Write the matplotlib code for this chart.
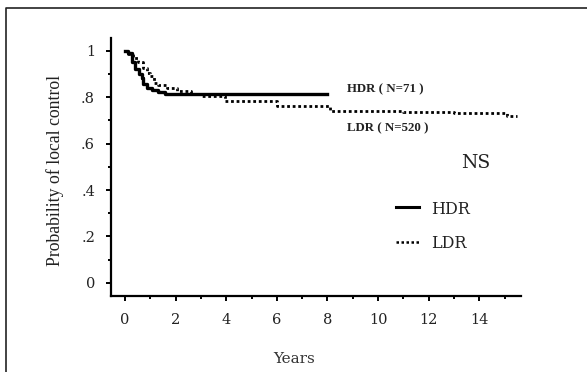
import numpy as np
import matplotlib.pyplot as plt
from matplotlib.lines import Line2D

# Kaplan-Meier style curves (years, probability)
hdr_t = [0, 0.1, 0.27, 0.4, 0.55, 0.67, 0.72, 0.85, 1.06, 1.3, 1.58, 8.0]
hdr_s = [1.0, 0.99, 0.95, 0.92, 0.9, 0.88, 0.855, 0.84, 0.83, 0.82, 0.811, 0.811]

ldr_t = [0, 0.1, 0.3, 0.5, 0.7, 0.85, 1.0, 1.15, 1.3, 1.65, 2.05, 2.6, 3.0,
         3.95, 6.0, 8.1, 11.0, 13.0, 15.1, 15.5]
ldr_s = [1.0, 0.985, 0.97, 0.95, 0.925, 0.905, 0.89, 0.86, 0.85, 0.84, 0.825,
         0.815, 0.805, 0.785, 0.762, 0.742, 0.735, 0.73, 0.718, 0.718]

xticks = [0, 2, 4, 6, 8, 10, 12, 14]
yticks = [0, 0.2, 0.4, 0.6, 0.8, 1.0]
ylabels = ['0', '.2', '.4', '.6', '.8', '1']

serif = 'DejaVu Serif'
times = 'Liberation Serif'

fig = plt.figure(figsize=(5.87, 3.72), dpi=100)
ax = fig.add_axes([111/587, 1-296/372, (521-111)/587, (296-38)/372])

ax.step(hdr_t, hdr_s, where='post', color='black', lw=2.4)
ax.step(ldr_t, ldr_s, where='post', color='black', lw=2.0, ls=(0, (1, 1)))

ax.set_xlim(-0.553, 15.65)
ax.set_ylim(-0.056, 1.054)
ax.set_xticks(xticks)
ax.set_xticks([1, 3, 5, 7, 9, 11, 13, 15], minor=True)
ax.set_yticks(yticks)
ax.set_yticklabels(ylabels)
ax.set_yticks([0.1, 0.3, 0.5, 0.7, 0.9], minor=True)

for s in ['top', 'right']:
    ax.spines[s].set_visible(False)
for s in ['left', 'bottom']:
    ax.spines[s].set_linewidth(1.6)

ax.tick_params(which='major', direction='out', length=3.5, width=1.4, pad=8, labelsize=10.5)
ax.tick_params(which='minor', direction='out', length=2.5, width=1.4)
ax.tick_params(axis='x', pad=9)
for lab in ax.get_xticklabels() + ax.get_yticklabels():
    lab.set_fontfamily(serif)
    lab.set_color('#222222')

fig.text(55/587, 1-170/372, 'Probability of local control', rotation=90,
         ha='center', va='center', family=times, fontsize=12.8, color='#222222')
fig.text(294/587, 1-359/372, 'Years', ha='center', va='center',
         family=serif, fontsize=11, color='#333333')

ax.text(8.77, 0.834, 'HDR ( N=71 )', ha='left', va='center', family=times,
        fontweight='bold', fontsize=9.3, color='#222222')
ax.text(8.77, 0.667, 'LDR ( N=520 )', ha='left', va='center', family=times,
        fontweight='bold', fontsize=9.3, color='#222222')
ax.text(13.28, 0.516, 'NS', ha='left', va='center', family=serif,
        fontsize=13.5, color='#222222')

# hand-made legend
ax.plot([10.71, 11.62], [0.327, 0.327], color='black', lw=2.2)
ax.plot([10.71, 11.62], [0.176, 0.176], color='black', lw=1.8, ls=(0, (1, 1)))
ax.text(12.09, 0.314, 'HDR', ha='left', va='center', family=serif, fontsize=11.5, color='#222222')
ax.text(12.09, 0.172, 'LDR', ha='left', va='center', family=serif, fontsize=11.5, color='#222222')

# picture frame (left and top edges only)
fx = 6/587
fy = 1-8/372
fig.add_artist(Line2D([fx, fx, 1], [0, fy, fy], transform=fig.transFigure,
                      color='#222222', lw=1.2))

fig.savefig('out.png', dpi=100)
